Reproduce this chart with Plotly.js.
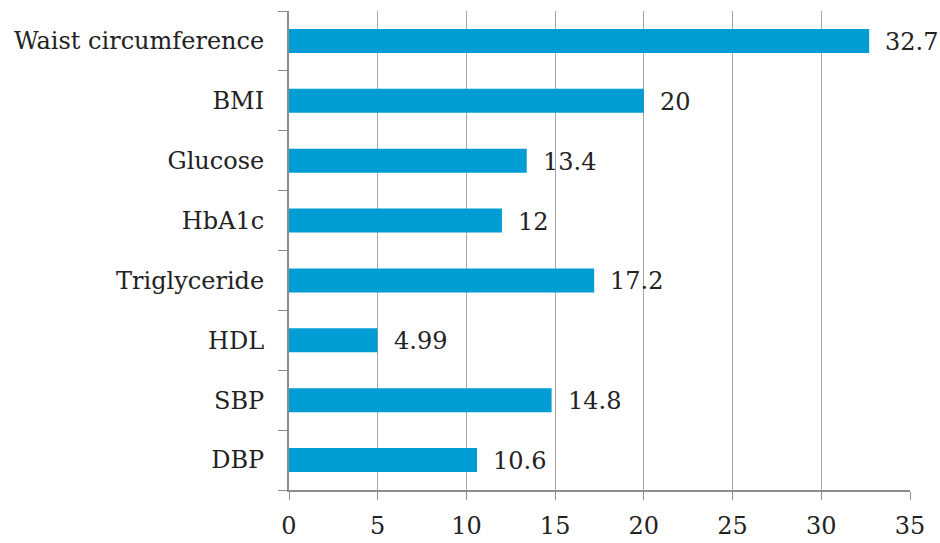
<!DOCTYPE html>
<html><head><meta charset="utf-8">
<script src="https://cdn.plot.ly/plotly-3.0.1.min.js"></script>
<style>html,body{margin:0;padding:0;background:#fff}#chart{width:940px;height:543px}</style>
</head><body><div id="chart"></div>
<script>
const categories = ["Waist circumference","BMI","Glucose","HbA1c","Triglyceride","HDL","SBP","DBP"];
const values = [32.7, 20, 13.4, 12, 17.2, 4.99, 14.8, 10.6];
const valueLabels = ["32.7","20","13.4","12","17.2","4.99","14.8","10.6"];
const xTicks = [0,5,10,15,20,25,30,35];

const font = "'DejaVu Serif', 'Liberation Serif', serif";
const trace = {
  type: "bar", orientation: "h",
  x: values, y: categories,
  marker: {color: "#009dd4"},
  hoverinfo: "none"
};
const annotations = values.map((v,i)=>({
  x: v, y: categories[i], xref: "x", yref: "y",
  text: valueLabels[i], showarrow: false, xanchor: "left", yanchor: "middle",
  xshift: 14, yshift: -1, font: {family: font, size: 24, color: "#222"}
}));
const layout = {
  width: 940, height: 543,
  margin: {l: 289, r: 30, t: 11, b: 53},
  paper_bgcolor: "#fff", plot_bgcolor: "#fff",
  bargap: 0.6,
  showlegend: false,
  font: {family: font, size: 24, color: "#222"},
  xaxis: {
    range: [0, 35], tickvals: xTicks, ticktext: xTicks.map(String),
    showgrid: true, gridcolor: "#a6a6a6", gridwidth: 1,
    zeroline: false, showline: true, linecolor: "#8c8c8c", linewidth: 2,
    ticks: "outside", ticklen: 8, tickcolor: "#8c8c8c", tickwidth: 1,
    ticklabelstandoff: 5,
    tickfont: {family: font, size: 24, color: "#222"}, fixedrange: true
  },
  yaxis: {
    type: "category", categoryorder: "array", categoryarray: categories.slice().reverse(),
    autorange: false, range: [-0.5, 7.5],
    showgrid: false, zeroline: false, showline: true, linecolor: "#8c8c8c", linewidth: 2,
    ticks: "outside", tickson: "boundaries", ticklen: 9, tickcolor: "#8c8c8c", tickwidth: 1,
    ticklabelstandoff: 18,
    tickfont: {family: font, size: 24, color: "#222"}, fixedrange: true
  },
  annotations: annotations
};
Plotly.newPlot("chart", [trace], layout, {staticPlot: true, displayModeBar: false});
</script></body></html>
